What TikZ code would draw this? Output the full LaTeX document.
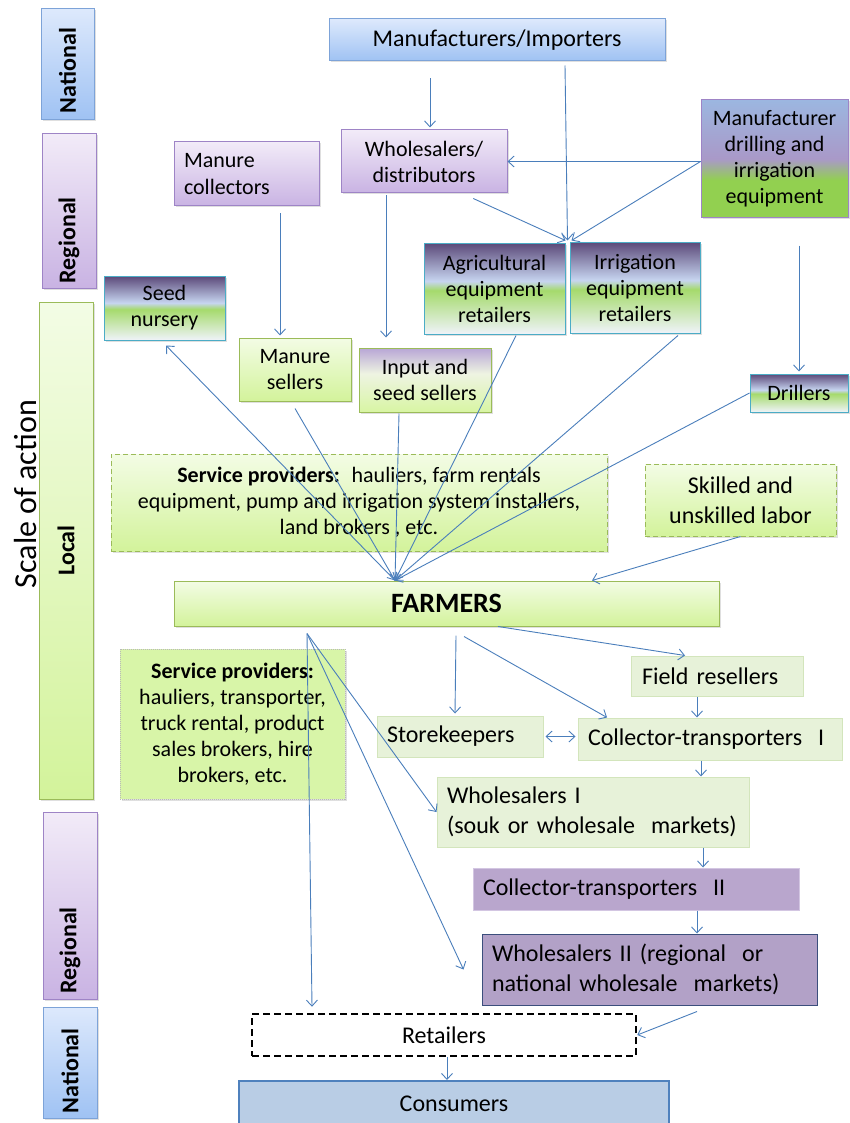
\documentclass[tikz,border=0pt]{standalone}
\usepackage{fontspec}
\setmainfont{Carlito}
\usetikzlibrary{arrows.meta,shadows}

\definecolor{arrowblue}{HTML}{4A7EBB}
\definecolor{blueline}{HTML}{7DA3D8}
\definecolor{purpleline}{HTML}{9E84C6}
\definecolor{greenline}{HTML}{9BBB59}
\definecolor{tealline}{HTML}{4BACC6}
\definecolor{paleline}{HTML}{D3E5BC}
\definecolor{palefill}{HTML}{E7F2D9}
\definecolor{lilacfill}{HTML}{B9A6CD}
\definecolor{lilacline}{HTML}{D3C6E2}
\definecolor{mauvefill}{HTML}{B2A1C7}
\definecolor{navyline}{HTML}{3B4E7C}
\definecolor{consfill}{HTML}{B9CDE5}
\definecolor{consline}{HTML}{4F81BD}
\definecolor{servfill}{HTML}{D8F5A8}

\definecolor{blueA}{HTML}{DDE9FC}
\definecolor{blueB}{HTML}{9FC2F3}
\definecolor{purpleA}{HTML}{F2EBF8}
\definecolor{purpleB}{HTML}{C9B3E3}
\definecolor{greenA}{HTML}{F3FCE5}
\definecolor{greenB}{HTML}{D3F39B}
\definecolor{triA}{HTML}{5B4979}
\definecolor{triB}{HTML}{C7D5F0}
\definecolor{triC}{HTML}{A5DA6C}
\definecolor{triD}{HTML}{EFF3F9}
\definecolor{inA}{HTML}{B8A6D6}
\definecolor{inB}{HTML}{EEF4E2}
\definecolor{inC}{HTML}{D8F5A3}
\definecolor{drA}{HTML}{9CB6E0}
\definecolor{drB}{HTML}{A999C8}
\definecolor{drC}{HTML}{92D050}

\pgfdeclareverticalshading{bluegrad}{100bp}{color(0bp)=(blueB); color(25bp)=(blueB); color(75bp)=(blueA); color(100bp)=(blueA)}
\pgfdeclareverticalshading{purplegrad}{100bp}{color(0bp)=(purpleB); color(25bp)=(purpleB); color(75bp)=(purpleA); color(100bp)=(purpleA)}
\pgfdeclareverticalshading{greengrad}{100bp}{color(0bp)=(greenB); color(25bp)=(greenB); color(75bp)=(greenA); color(100bp)=(greenA)}
\pgfdeclareverticalshading{trigrad}{100bp}{color(0bp)=(triD); color(25bp)=(triD); color(49bp)=(triC); color(54bp)=(triB); color(75bp)=(triA); color(100bp)=(triA)}
\pgfdeclareverticalshading{inputgrad}{100bp}{color(0bp)=(inC); color(25bp)=(inC); color(55bp)=(inB); color(75bp)=(inA); color(100bp)=(inA)}
\pgfdeclareverticalshading{drillgrad}{100bp}{color(0bp)=(drC); color(25bp)=(drC); color(41bp)=(drC); color(50bp)=(drB); color(75bp)=(drA); color(100bp)=(drA)}

\tikzset{
  every node/.append style={font=\fontsize{22}{26}\selectfont},
  big/.style={font=\fontsize{24}{30}\selectfont},
  sz/.style 2 args={minimum width=#1pt, minimum height=#2pt},
  lft/.style={align=left, text width=#1pt, inner xsep=10pt},
  shd/.style={drop shadow={opacity=0.25, shadow xshift=1.5pt, shadow yshift=-1.5pt}},
  box/.style={draw, rectangle, inner sep=0pt, line width=1pt},
  bluebox/.style={box, shd, draw=blueline, shade, shading=bluegrad},
  purplebox/.style={box, shd, draw=purpleline, shade, shading=purplegrad},
  greenbox/.style={box, shd, draw=greenline, shade, shading=greengrad},
  tribox/.style={box, shd, draw=tealline, shade, shading=trigrad},
  seedbox/.style={box, shd, draw=greenline, shade, shading=inputgrad},
  drillbox/.style={box, shd, draw=purpleline, shade, shading=drillgrad},
  palebox/.style={box, big, draw=paleline, fill=palefill},
  servbox/.style={box, shd, draw=gray!55, densely dotted, line width=0.6pt, fill=servfill},
  dashbox/.style={dash pattern=on 5pt off 3pt},
  barlbl/.style={rotate=90, inner sep=2pt, font=\fontsize{24}{28}\selectfont\bfseries},
  flow/.style={draw=arrowblue, line width=0.9pt, >={Straight Barb[length=6pt,width=11pt]}, ->},
  flowboth/.style={flow, <->}
}

\begin{document}
\begin{tikzpicture}[x=1pt, y=-1pt]
  \useasboundingbox (0,0) rectangle (849,1123);

  \node[bluebox, sz={53}{111}] (natT) at (67.5,64.5) {};
  \node[barlbl] (natTl) at ([yshift=-6pt]natT.center) {National};
  \node[purplebox, sz={54}{154}] (regT) at (69,211) {};
  \node[barlbl, anchor=west] (regTl) at ([yshift=3pt]regT.south) {Regional};
  \node[greenbox, sz={54}{497}] (locB) at (66,550.5) {};
  \node[barlbl] (locBl) at (locB.center) {Local};
  \node[purplebox, sz={54}{187}] (regB) at (70,905.5) {};
  \node[barlbl, anchor=west] (regBl) at ([yshift=4pt]regB.south) {Regional};
  \node[bluebox, sz={54}{111}] (natB) at (70,1062.5) {};
  \node[barlbl, anchor=west] (natBl) at ([yshift=3pt]natB.south) {National};
  \node[rotate=90, font=\fontsize{32}{36}\selectfont] (scale) at (26,494) {Scale of action};

  \node[bluebox, big, sz={336}{42}] (mfr) at (497,40) {Manufacturers/Importers};
  \node[purplebox, sz={166}{63}, align=center] (whole) at (424,161.5) {Wholesalers/\\distributors};
  \node[purplebox, sz={145}{64}, lft=125, font=\fontsize{22}{27}\selectfont] (mcoll) at (246.5,174) {Manure\\collectors};
  \node[drillbox, sz={147}{118}, align=center] (mdrill) at (774.5,159) {Manufacturer\\drilling and\\irrigation\\equipment};
  \node[tribox, sz={141}{91}, align=center] (agr) at (494.5,288.5) {Agricultural\\equipment\\retailers};
  \node[tribox, sz={130}{91}, align=center] (irr) at (635,287.5) {Irrigation\\equipment\\retailers};
  \node[tribox, sz={121}{64}, align=center] (seed) at (164.5,308) {Seed\\nursery};
  \node[greenbox, sz={112}{63}, align=center] (msell) at (295,369.5) {Manure\\sellers};
  \node[seedbox, sz={132}{64}, align=center] (inseed) at (425,380) {Input and\\seed sellers};
  \node[tribox, sz={98}{38}] (drill) at (799,393) {Drillers};
  \node[greenbox, dashbox, sz={496}{97}, align=center] (servT) at (359,502.5)
    {\textbf{Service providers:}~ hauliers, farm rentals\\equipment, pump and irrigation system installers,\\land brokers , etc.};
  \node[greenbox, dashbox, sz={191}{72}, align=center, big] (skill) at (740.5,500) {Skilled and\\unskilled labor};
  \node[greenbox, sz={545}{45}, font=\fontsize{28}{32}\selectfont\bfseries] (farm) at (446.5,603.5) {FARMERS};
  \node[servbox, sz={225}{150}, align=center] (servB) at (232.5,724)
    {\textbf{Service providers:}\\hauliers, transporter,\\truck rental, product\\sales brokers, hire\\brokers, etc.};
  \node[palebox, sz={166}{41}, lft=146] (store) at (460,736.5) {Storekeepers};
  \node[palebox, sz={172}{40}, lft=150] (field) at (717,676) {Field resellers};
  \node[palebox, sz={264}{42}, lft=244] (coll1) at (710,739) {Collector-transporters~ I};
  \node[palebox, sz={312}{70}, lft=292] (whl1) at (593,812) {Wholesalers I\\(souk or wholesale~ markets)};
  \node[box, big, fill=lilacfill, draw=lilacline, sz={326}{42}, lft=306] (coll2) at (636,889) {Collector-transporters~ II};
  \node[box, big, fill=mauvefill, draw=navyline, sz={335}{71}, lft=315] (whl2) at (649.5,969.5) {Wholesalers II (regional~ or\\national wholesale~ markets)};
  \node[box, big, fill=white, draw=black, dash pattern=on 7pt off 4pt, line width=2.5pt, sz={384}{42}] (ret) at (444,1035) {Retailers};
  \node[box, big, fill=consfill, draw=consline, line width=2pt, sz={430}{46}] (cons) at (454,1104) {Consumers};

  \coordinate (retJ) at ([xshift=2pt]agr.north east);
  \coordinate (hubN) at ([xshift=-51.5pt]farm.north);
  \coordinate (hubS) at ([xshift=-139.5pt,yshift=-7pt]farm.south);

  \path[every edge/.style={flow}]
    ([xshift=-67pt,yshift=-17pt]mfr.south) edge ([xshift=6pt,yshift=2pt]whole.north)
    ([xshift=68pt,yshift=-4pt]mfr.south) edge ([yshift=2pt]retJ)
    ([yshift=-5pt]whole.-33) edge ([xshift=-2pt,yshift=2pt]retJ)
    (mdrill.west |- whole.east) edge (whole.east)
    (mdrill.west |- whole.east) edge ([xshift=4pt,yshift=2pt]retJ)
    ([xshift=24.5pt,yshift=-27pt]mdrill.south) edge ([yshift=2pt]drill.north)
    ([xshift=33.5pt,yshift=-7pt]mcoll.south) edge ([xshift=-15pt,yshift=2pt]msell.north)
    ([xshift=-38pt,yshift=-2pt]whole.south) edge ([xshift=-39pt,yshift=10pt]inseed.north)
    (hubN) edge ([xshift=1.5pt,yshift=-5pt]seed.south)
    ([yshift=-7pt]msell.south) edge (hubN)
    ([xshift=-26pt,yshift=-1pt]inseed.south) edge (hubN)
    ([xshift=21.5pt,yshift=-1pt]agr.south) edge (hubN)
    ([xshift=43pt,yshift=-2pt]irr.south) edge (hubN)
    (drill.west) edge (hubN)
    (skill.south) edge ([xshift=145.5pt]farm.north)
    ([xshift=51.5pt]farm.south) edge ([xshift=-32pt]field.north)
    ([xshift=9.5pt,yshift=-9pt]farm.south) edge ([xshift=-5pt,yshift=2pt]store.north)
    ([xshift=17.5pt,yshift=-10pt]farm.south) edge ([xshift=-103pt]coll1.north)
    ([xshift=-20pt]field.south) edge ([xshift=-13pt]coll1.north)
    ([xshift=2pt]store.east) edge[flowboth] ([xshift=-2pt]store.east -| coll1.west)
    ([xshift=-9pt]coll1.south) edge ([xshift=108pt]whl1.north)
    (hubS) edge ([xshift=-132pt,yshift=6pt]ret.north)
    (hubS) edge (whl1.west)
    (hubS) edge ([xshift=-18pt]whl2.west)
    ([xshift=110pt]whl1.south) edge ([xshift=67pt]coll2.north)
    ([xshift=61pt]coll2.south) edge ([xshift=47.5pt]whl2.north)
    ([xshift=47.5pt,yshift=-6pt]whl2.south) edge (ret.east)
    ([xshift=3pt]ret.south) edge ([xshift=-7pt]cons.north);
\end{tikzpicture}
\end{document}
